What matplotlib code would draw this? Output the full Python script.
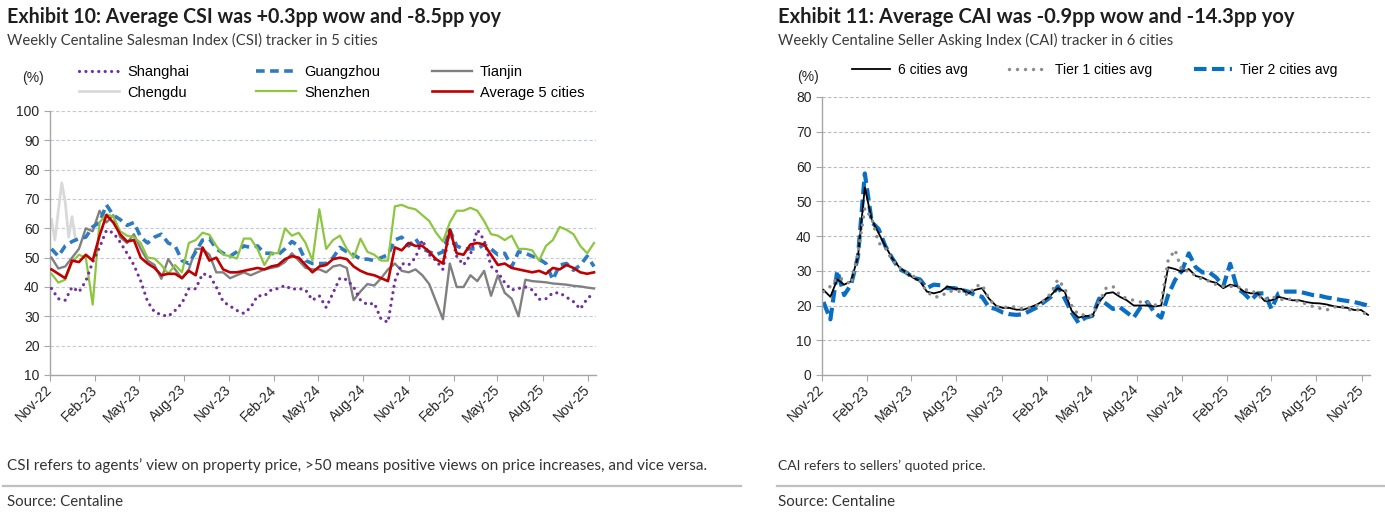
import numpy as np
import pandas as pd
import matplotlib
matplotlib.use("Agg")
import matplotlib.pyplot as plt
import matplotlib.dates as mdates
from matplotlib.lines import Line2D

# ---------------- data ----------------
dates = pd.date_range("2022-11-04", periods=80, freq="14D")
chengdu_dates = pd.date_range("2022-11-04", periods=8, freq="7D")

shanghai = [39.5, 36, 35.5, 40, 38.3, 42, 48.5, 53.5, 59.3, 58.5,
            55.3, 51.5, 47.5, 42, 35, 31.5, 30.5, 30, 32, 34.5,
            39.4, 39.4, 44.5, 44, 40, 35, 33.5, 32, 31, 33,
            37, 37, 39, 39.5, 40.5, 39.2, 39.5, 39, 35.5, 37,
            33, 38, 43, 42.5, 40, 35.5, 34, 34.5, 29, 28,
            42, 48, 47.5, 50, 56, 51, 49, 46, 60, 50.5,
            47.5, 51, 59.5, 56, 47, 45, 41.5, 39, 39.5, 40,
            39, 35.8, 36, 38, 38, 36.5, 35, 32.5, 36, 38]
guangzhou = [53, 50.5, 54, 55.5, 56.5, 57, 60.5, 62, 68, 64.5,
             63, 61, 62, 57, 55, 57, 58, 55, 54, 49,
             48, 52, 56, 56.5, 53, 51.5, 50.5, 52, 54, 53.5,
             54, 51.5, 51.5, 51, 53, 55.5, 54, 49, 48, 48,
             48, 50, 53.5, 52, 51, 49.5, 49.5, 49, 50, 51,
             56, 57, 54, 56.5, 53, 52, 51, 52, 59.5, 54,
             53, 53, 53, 54.5, 53, 51, 51.5, 46.8, 52, 51.5,
             50.5, 49.5, 48, 42.5, 47.5, 48, 45.7, 47.5, 50.5, 47]
tianjin = [50, 46.3, 47, 50, 53, 60, 59, 66, 62, 64.5,
           57, 55, 58, 53, 49, 47.5, 42.8, 49.5, 46, 43,
           46, 53, 53, 51, 45, 45, 43, 44, 45, 44,
           45, 46, 46.5, 47, 48.5, 51.5, 49, 46.5, 46, 46,
           45, 47, 47.5, 46.5, 35.5, 38.5, 41, 40.5, 43, 46,
           48, 45.5, 45, 46, 44, 41, 35, 29, 48, 40,
           40, 44, 42, 45.5, 37, 44, 38, 36, 30, 42.5,
           42, 41.8, 41.6, 41.2, 41, 40.8, 40.4, 40.2, 39.8, 39.5]
chengdu = [63, 56, 66, 75.5, 69, 57, 64, 56]
shenzhen = [44.5, 41.5, 42.5, 48.5, 51, 50, 34, 62, 64.8, 64,
            59, 57.5, 57, 55, 50, 49.7, 47.5, 44.5, 47.5, 45,
            55, 56, 58.5, 57.8, 54, 51, 50.5, 49.7, 56.5, 56.5,
            53, 47.5, 51.5, 51.5, 60, 57.5, 58.5, 55, 49, 66.5,
            53, 56, 57.5, 53, 50, 56.5, 52, 51, 49, 49,
            67.5, 68, 67, 66.5, 64.5, 62.5, 58.5, 55.5, 62, 66,
            66, 67, 66, 62.5, 58, 57.5, 56, 57.5, 53, 53,
            52.5, 49, 54, 56, 60.5, 59.5, 58, 54, 51.5, 55]
average5 = [46, 44.5, 43, 49, 48.5, 51, 49, 57.5, 64.5, 62,
            58, 55.5, 56, 50, 48, 46.5, 44, 44.5, 44.5, 43,
            45.5, 44, 53.5, 49, 50, 46, 45, 45, 45.5, 46,
            46.5, 46, 47, 47.5, 49.5, 50.5, 50, 47.5, 45, 47,
            47.5, 49.5, 50, 49.5, 47, 45.5, 44.5, 44, 43, 42,
            53.5, 52.5, 55, 54, 54, 52, 49.5, 48, 59.5, 51.5,
            51, 54.5, 55, 54.5, 51, 47.5, 48, 46.5, 46, 45.5,
            45, 45.5, 44.5, 46.5, 46, 47.5, 46.5, 45, 44.5, 45]

six_avg = [24.5, 22.5, 27.5, 26, 27, 34, 54, 44.7, 40.8, 37,
           33.5, 31, 29.5, 28, 27, 24, 23.5, 24, 25.5, 24.8,
           24.8, 23.5, 24.5, 25, 22, 20, 19.3, 19.3, 18.8, 18.8,
           19.5, 20.3, 21.5, 23, 25, 24, 18.5, 16.5, 17, 17,
           21, 23.5, 23.8, 22.5, 21.5, 20, 20, 20, 19.7, 20,
           31, 30.5, 29.7, 30.5, 28.5, 28, 27, 26.5, 25, 26,
           25.5, 24, 23.5, 23.5, 21.3, 21.5, 22.5, 22, 21.5, 21.5,
           21, 20.7, 20.6, 20.3, 19.8, 19.5, 19.3, 18.7, 18.7, 17.3]
tier1 = [24, 25.5, 28, 27.5, 26, 35, 48, 45, 38, 36.5,
         33, 31, 29.5, 28.5, 27, 24, 22.5, 22.5, 24, 24.2,
         24, 23, 25.5, 26, 22, 19.7, 19.5, 19.5, 19.7, 19,
         19.5, 20, 21.5, 23.5, 27.5, 25, 20, 17.3, 17.3, 17,
         21, 25, 25.5, 23, 22, 21.5, 21, 21, 20, 21,
         33, 36, 30, 30, 28.5, 27.5, 27, 26, 25.5, 25.5,
         25.5, 24.5, 24.5, 23, 21.5, 22.5, 22, 21.5, 22, 21,
         20.5, 19.7, 19.2, 18.7, 19.5, 20, 18.8, 18.8, 18.7, 16.8]
tier2 = [21, 16, 30, 23, 26, 34, 58, 44, 42, 37,
         33.5, 30.5, 29.5, 28, 27.5, 25, 26, 25.8, 25, 25,
         24.5, 24, 23, 22.5, 19.5, 19, 18, 17.5, 17.3, 17.5,
         18.5, 19.5, 21, 22.5, 25.5, 22, 18, 15, 16.5, 17,
         22, 20.5, 19, 19.5, 18, 16.5, 19.5, 21, 18, 16.5,
         23, 27.3, 30, 35, 31, 29.5, 29.5, 28, 25.5, 32,
         25, 23.5, 21.5, 23.5, 23.5, 19, 23.5, 24, 24, 24,
         23.5, 23, 22.8, 22.3, 22, 21.6, 21.3, 21, 20.5, 20]

# ---------------- layout ----------------
W, H = 1385, 513
plt.rcParams["font.family"] = ["Liberation Sans", "DejaVu Sans"]
fig = plt.figure(figsize=(W / 100, H / 100), dpi=100)
fig.patch.set_facecolor("white")


def fx(px):
    return px / W


def fy(py):
    return 1 - py / H


ax1 = fig.add_axes([fx(50), fy(375), (596 - 50) / W, (375 - 111) / H])
ax2 = fig.add_axes([fx(822), fy(375), (1370 - 822) / W, (375 - 97) / H])

xmin, xmax = pd.Timestamp("2022-11-01"), pd.Timestamp("2025-11-18")

for ax, grid_c in ((ax1, "#C3C7E2"), (ax2, "#B7B9C8")):
    for s in ("top", "right"):
        ax.spines[s].set_visible(False)
    for s in ("left", "bottom"):
        ax.spines[s].set_color("#A6A6A6")
        ax.spines[s].set_linewidth(1.0)
    ax.set_xlim(xmin, xmax)
    ax.yaxis.grid(True, linestyle=(0, (3, 2)), color=grid_c, linewidth=0.8)
    ax.set_axisbelow(True)
    ax.tick_params(axis="both", direction="out", length=4, color="#A6A6A6",
                   labelsize=10, labelcolor="#262626")
    ax.tick_params(axis="x", pad=5)
    ax.xaxis.set_major_locator(mdates.MonthLocator(bymonth=[2, 5, 8, 11]))
    ax.xaxis.set_major_formatter(mdates.DateFormatter("%b-%y"))
    for lab in ax.get_xticklabels():
        lab.set_rotation(45)
        lab.set_ha("right")
        lab.set_va("center")
        lab.set_rotation_mode("anchor")

ax1.set_ylim(10, 100)
ax1.set_yticks(range(10, 101, 10))
ax2.set_ylim(0, 80)
ax2.set_yticks(range(0, 81, 10))

# ---------------- left chart ----------------
l_cd, = ax1.plot(chengdu_dates, chengdu, color="#D9D9D9", lw=2.0, zorder=2)
l_tj, = ax1.plot(dates, tianjin, color="#808080", lw=1.7, zorder=3)
l_gz, = ax1.plot(dates, guangzhou, color="#2E7BBF", lw=2.6,
                 ls=(0, (2.4, 1.5)), zorder=4)
l_sz, = ax1.plot(dates, shenzhen, color="#8CC63F", lw=1.6, zorder=5)
l_sh, = ax1.plot(dates, shanghai, color="#7030A0", lw=2.3,
                 ls=(0, (0.01, 2.0)), dash_capstyle="round", zorder=6)
l_av, = ax1.plot(dates, average5, color="#C00000", lw=1.9, zorder=7)

leg_kw = dict(loc="upper left", frameon=False, fontsize=10.5, handlelength=2.75,
              handletextpad=0.55, labelspacing=0.45, borderpad=0, borderaxespad=0)
for hs, ls_, xp in (((l_sh, l_cd), ("Shanghai", "Chengdu"), 79),
                    ((l_gz, l_sz), ("Guangzhou", "Shenzhen"), 256),
                    ((l_tj, l_av), ("Tianjin", "Average 5 cities"), 432)):
    fig.legend(hs, ls_, bbox_to_anchor=(fx(xp), fy(65)), **leg_kw)

fig.text(fx(22), fy(78), "(%)", fontsize=10, color="#262626", va="center", ha="left")

# ---------------- right chart ----------------
r_t2, = ax2.plot(dates, tier2, color="#0A6FC2", lw=3.0,
                 ls=(0, (3.0, 1.3)), zorder=2)
r_6, = ax2.plot(dates, six_avg, color="#000000", lw=1.3, zorder=3)
r_t1, = ax2.plot(dates, tier1, color="#8C8C8C", lw=2.5,
                 ls=(0, (0.01, 2.3)), dash_capstyle="round", zorder=4)

fig.legend([r_6, r_t1, r_t2], ["6 cities avg", "Tier 1 cities avg", "Tier 2 cities avg"],
           loc="upper left", bbox_to_anchor=(fx(852), fy(63)), ncol=3, frameon=False,
           fontsize=10, handlelength=2.75, handletextpad=0.55, columnspacing=3.0,
           borderpad=0, borderaxespad=0)
fig.text(fx(797), fy(77), "(%)", fontsize=10, color="#262626", va="center", ha="left")

# ---------------- titles & footers ----------------
renderer = fig.canvas.get_renderer()


def fit_text(x_px, y_px, s, width_px, **kw):
    t = fig.text(fx(x_px), fy(y_px), s, ha="left", va="center", **kw)
    bb = t.get_window_extent(renderer)
    t.set_fontsize(t.get_fontsize() * width_px / bb.width)
    return t


title_kw = dict(family=["Lato", "DejaVu Sans"], weight="bold", color="#1E1E1E", fontsize=14)
sub_kw = dict(family=["Lato", "DejaVu Sans"], color="#3A3A3A", fontsize=12)
foot_kw = dict(family=["Lato", "DejaVu Sans"], color="#333333", fontsize=10)

fit_text(7, 17, "Exhibit 10: Average CSI was +0.3pp wow and -8.5pp yoy", 496, **title_kw)
fit_text(7, 40, "Weekly Centaline Salesman Index (CSI) tracker in 5 cities", 369, **sub_kw)
fit_text(778, 17, "Exhibit 11: Average CAI was -0.9pp wow and -14.3pp yoy", 519, **title_kw)
fit_text(778, 40, "Weekly Centaline Seller Asking Index (CAI) tracker in 6 cities", 393, **sub_kw)

fit_text(7, 466, "CSI refers to agents\u2019 view on property price, >50 means positive views on price increases, and vice versa.", 700, **foot_kw)
fit_text(778, 466, "CAI refers to sellers\u2019 quoted price.", 207, **foot_kw)
fit_text(7, 502, "Source: Centaline", 116, **foot_kw)
fit_text(778, 502, "Source: Centaline", 117, **foot_kw)

for x0, x1 in ((3, 741), (777, 1385)):
    fig.add_artist(Line2D([fx(x0), fx(x1)], [fy(486), fy(486)], color="#BFBFBF", lw=1.6))

fig.savefig("out.png", dpi=100, facecolor="white")
